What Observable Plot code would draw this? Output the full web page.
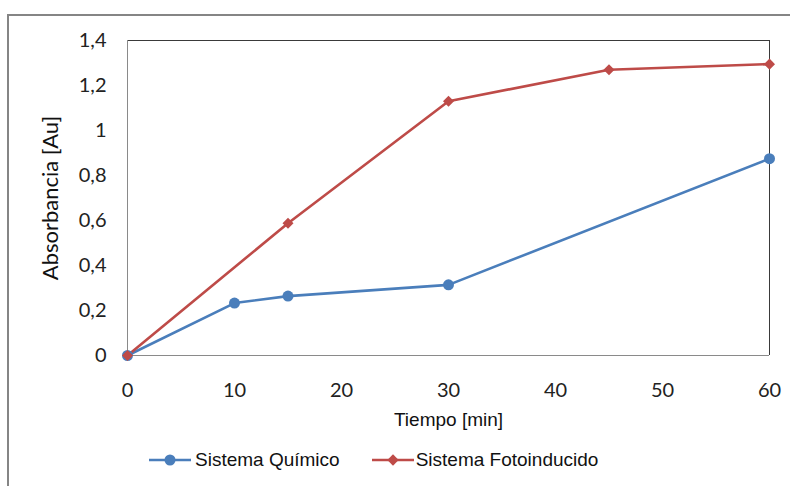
<!DOCTYPE html>
<html>
<head>
<meta charset="utf-8">
<script src="https://cdn.jsdelivr.net/npm/d3@7"></script>
<script src="https://cdn.jsdelivr.net/npm/@observablehq/plot@0.6"></script>
<style>
  html, body { margin: 0; padding: 0; background: #fff; }
  #wrap { position: relative; width: 790px; height: 486px; overflow: hidden; background: #fff; }
  #border { position: absolute; left: 7px; top: 14px; width: 820px; height: 520px;
            border-left: 2px solid #858585; border-top: 2px solid #858585; }
  #chart { position: absolute; left: 0; top: 0; }
  #legend { position: absolute; left: 149px; top: 449px; display: flex; align-items: center;
            font-family: "Liberation Sans", Arial, sans-serif; font-size: 19px; color: #111; }
  .item { display: flex; align-items: center; }
  .item svg { display: block; }
</style>
</head>
<body>
<div id="wrap">
  <div id="border"></div>
  <div id="chart"></div>
  <div id="legend"></div>
</div>
<script>
// ---- data ----
const seriesNames = ["Sistema Químico", "Sistema Fotoinducido"];
const quimicoTime = [0, 10, 15, 30, 60];
const quimicoAbs = [0, 0.233, 0.264, 0.314, 0.875];
const fotoTime = [0, 15, 30, 45, 60];
const fotoAbs = [0, 0.588, 1.13, 1.27, 1.295];
const xTicks = [0, 10, 20, 30, 40, 50, 60];
const xTickLabels = ["0", "10", "20", "30", "40", "50", "60"];
const yTicks = [0, 0.2, 0.4, 0.6, 0.8, 1.0, 1.2, 1.4];
const yTickLabels = ["0", "0,2", "0,4", "0,6", "0,8", "1", "1,2", "1,4"];
const xTitle = "Tiempo [min]";
const yTitle = "Absorbancia [Au]";
const colors = ["#4A7EBB", "#BE4B48"];

const quimico = quimicoTime.map((t, i) => ({t, a: quimicoAbs[i]}));
const foto = fotoTime.map((t, i) => ({t, a: fotoAbs[i]}));

const tickFont = "Lato, 'Open Sans', sans-serif";
const titleFont = "'Liberation Sans', Arial, sans-serif";

const chart = Plot.plot({
  width: 790,
  height: 486,
  marginLeft: 127,
  marginRight: 21,
  marginTop: 40,
  marginBottom: 131,
  style: {background: "transparent", color: "#222", overflow: "visible"},
  x: {domain: [0, 60]},
  y: {domain: [0, 1.4]},
  marks: [
    Plot.ruleY([1.4], {stroke: "#3a3a3a", strokeWidth: 1}),
    Plot.ruleX([60], {stroke: "#3a3a3a", strokeWidth: 1}),
    Plot.ruleX([0], {stroke: "#8a8a8a", strokeWidth: 1}),
    Plot.ruleY([0], {stroke: "#8a8a8a", strokeWidth: 1}),
    Plot.axisX({ticks: xTicks, tickFormat: d => xTickLabels[xTicks.indexOf(d)], tickSize: 0, tickPadding: 27,
                label: null, fontSize: 20, fontFamily: tickFont}),
    Plot.axisY({ticks: yTicks, tickFormat: d => yTickLabels[yTicks.indexOf(d)], tickSize: 0, tickPadding: 21,
                label: null, fontSize: 20, fontFamily: tickFont}),
    Plot.text([xTitle], {frameAnchor: "bottom", dy: 70, fontSize: 19, fontFamily: titleFont, fill: "#111"}),
    Plot.text([yTitle], {frameAnchor: "left", textAnchor: "middle", lineAnchor: "middle", dx: -77, rotate: -90,
                         fontSize: 22, fontFamily: tickFont, fill: "#111"}),
    Plot.line(quimico, {x: "t", y: "a", stroke: colors[0], strokeWidth: 2.6}),
    Plot.line(foto, {x: "t", y: "a", stroke: colors[1], strokeWidth: 2.6}),
    Plot.dot(quimico, {x: "t", y: "a", symbol: "circle", r: 5.5, fill: colors[0], stroke: "none"}),
    Plot.dot(foto, {x: "t", y: "a", symbol: "square", rotate: 45, r: 4.4, fill: colors[1], stroke: "none"})
  ]
});
document.getElementById("chart").appendChild(chart);

// ---- legend ----
const legend = document.getElementById("legend");
seriesNames.forEach((name, i) => {
  const item = document.createElement("div");
  item.className = "item";
  if (i > 0) item.style.marginLeft = "32px";
  const marker = i === 0
    ? `<circle cx="21" cy="10" r="5.5" fill="${colors[0]}"/>`
    : `<rect x="17" y="6" width="8" height="8" fill="${colors[1]}" transform="rotate(45 21 10)"/>`;
  item.innerHTML = `<svg width="42" height="20"><line x1="0" x2="42" y1="10" y2="10" stroke="${colors[i]}" stroke-width="2.6"/>${marker}</svg><span style="margin-left:${i === 0 ? 4 : 2}px">${name}</span>`;
  legend.appendChild(item);
});
</script>
</body>
</html>
